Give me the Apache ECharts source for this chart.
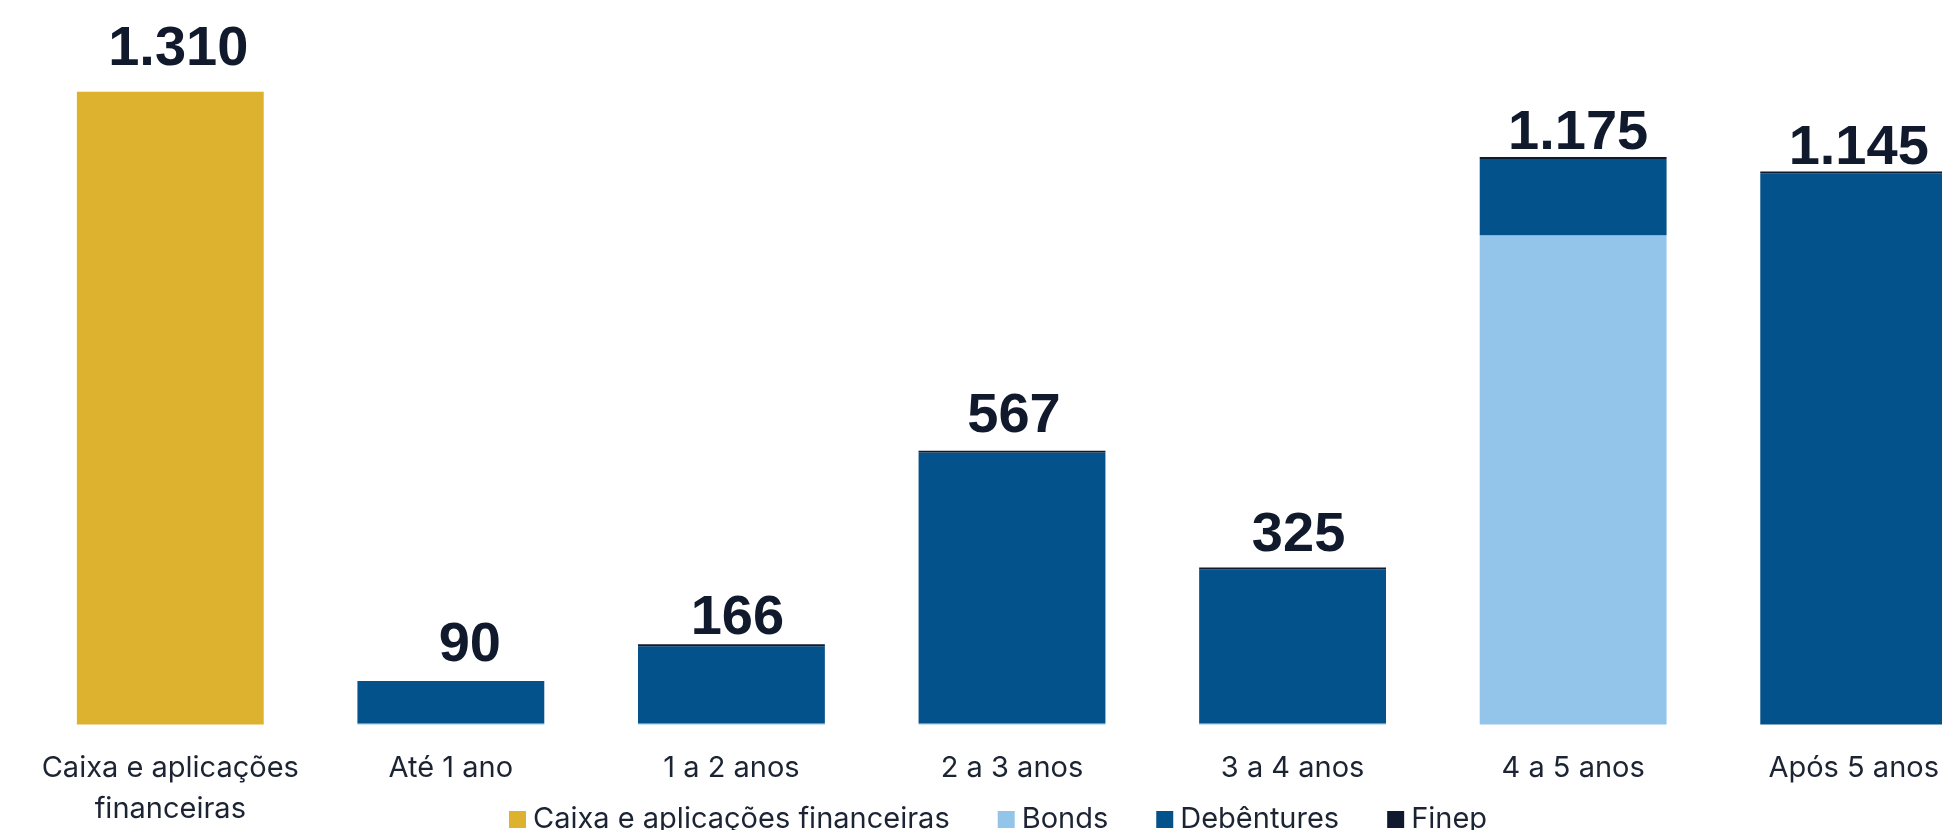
<!DOCTYPE html>
<html>
<head>
<meta charset="utf-8">
<script src="https://cdn.jsdelivr.net/npm/echarts@6/dist/echarts.min.js"></script>
<style>
  html, body { margin: 0; padding: 0; background: #fff; }
  #chart { width: 1942px; height: 830px; }
</style>
</head>
<body>
<div id="chart"></div>
<script>
// categories and values (R$ mi)
const categories = ['Caixa e aplicações\nfinanceiras', 'Até 1 ano', '1 a 2 anos', '2 a 3 anos', '3 a 4 anos', '4 a 5 anos', 'Após 5 anos'];
const caixa = [1310, 0, 0, 0, 0, 0, 0];
const bonds = [0, 2, 2, 2, 2, 1013, 0];
const debentures = [0, 88, 160, 561, 319, 158, 1141];
const finep = [0, 0, 4, 4, 4, 4, 4];
const totals = [1310, 90, 166, 567, 325, 1175, 1145];

// label nudges (the source labels were placed by hand)
const labelDy = [-14, -7, 2, -6, -4, 5, 5];
const labelDx = [8, 19, 6, 2, 6, 5, 5];

const fmt = v => String(v).replace(/\B(?=(\d{3})+(?!\d))/g, '.');

var myChart = echarts.init(document.getElementById('chart'));

const base = { type: 'bar', stack: 'total', barCategoryGap: '33.4%', emphasis: { disabled: true } };

var option = {
    animation: false,
    grid: { left: 30, top: 0, right: -52, bottom: 105.5, containLabel: false, outerBoundsMode: 'none' },
    legend: {
        left: 504, top: 800,
        icon: 'rect', itemWidth: 17, itemHeight: 17, itemGap: 48,
        textStyle: { fontFamily: 'Inter', fontSize: 29, color: '#1c2433', padding: [0, 0, 0, 2] },
        data: ['Caixa e aplicações financeiras', 'Bonds', 'Debêntures', 'Finep']
    },
    xAxis: {
        type: 'category',
        data: categories,
        axisLine: { show: false },
        axisTick: { show: false },
        axisLabel: { interval: 0, margin: 23, fontFamily: 'Inter', fontSize: 29, lineHeight: 41, color: '#1c2433' }
    },
    yAxis: { type: 'value', min: 0, max: 1500, show: false, splitLine: { show: false } },
    series: [
        { ...base, name: 'Caixa e aplicações financeiras', data: caixa, itemStyle: { color: '#DDB22F' } },
        { ...base, name: 'Bonds', data: bonds, itemStyle: { color: '#93C5EB' } },
        { ...base, name: 'Debêntures', data: debentures, itemStyle: { color: '#04528B' } },
        {
            ...base, name: 'Finep', itemStyle: { color: '#0F1A2E' },
            data: finep.map((v, i) => ({
                value: v,
                label: { offset: [labelDx[i], labelDy[i]] }
            })),
            label: {
                show: true, position: 'top', distance: 0,
                fontFamily: 'Liberation Sans', fontWeight: 'bold', fontSize: 56, color: '#101A2C',
                formatter: p => fmt(totals[p.dataIndex])
            }
        }
    ]
};

myChart.setOption(option);
</script>
</body>
</html>
